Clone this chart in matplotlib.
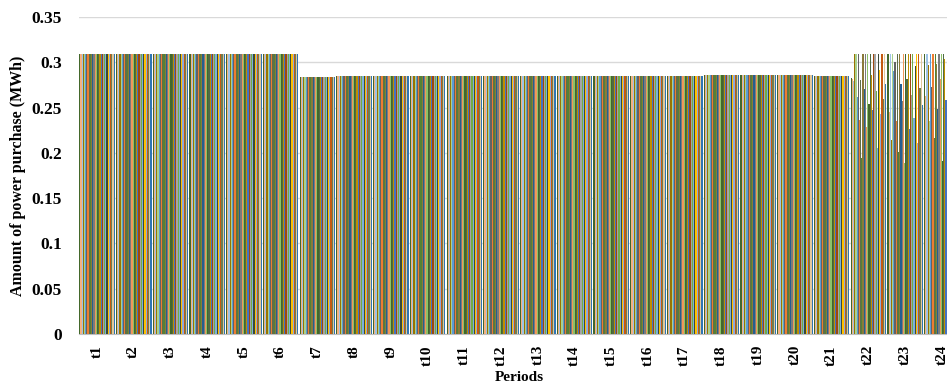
import numpy as np
import matplotlib
matplotlib.use("Agg")
from matplotlib import pyplot as plt

periods = ["t1", "t2", "t3", "t4", "t5", "t6", "t7", "t8", "t9", "t10", "t11", "t12",
           "t13", "t14", "t15", "t16", "t17", "t18", "t19", "t20", "t21", "t22", "t23", "t24"]

# t1..t21: every series buys the same amount in a period
flat_levels = [0.309, 0.309, 0.309, 0.309, 0.309, 0.309,
               0.284, 0.285, 0.285, 0.285, 0.285, 0.285, 0.285, 0.285, 0.285,
               0.285, 0.285, 0.286, 0.286, 0.286, 0.285]

# t22..t24: series differ
t22_vals = [0.283, 0.281, 0.279, 0.309, 0.309, 0.262, 0.309, 0.236, 0.280, 0.194,
            0.309, 0.271, 0.309, 0.228, 0.309, 0.254, 0.309, 0.286, 0.247, 0.309,
            0.309, 0.268, 0.205, 0.309, 0.291, 0.243, 0.309, 0.259, 0.309, 0.276]
t23_vals = [0.309, 0.245, 0.309, 0.214, 0.309, 0.290, 0.300, 0.235, 0.309, 0.201,
            0.309, 0.276, 0.257, 0.309, 0.189, 0.309, 0.281, 0.309, 0.226, 0.309,
            0.264, 0.309, 0.238, 0.296, 0.309, 0.211, 0.309, 0.272, 0.309, 0.253]
t24_vals = [0.309, 0.263, 0.309, 0.297, 0.235, 0.309, 0.273, 0.309, 0.216, 0.309,
            0.298, 0.248, 0.309, 0.282, 0.309, 0.191, 0.309, 0.304, 0.258, 0.309,
            0.229, 0.309, 0.287, 0.309, 0.244, 0.309, 0.270, 0.207, 0.309, 0.293]

# excel-like accent colours and shades, ordered so the blocks read olive/muted
colors = ['#43682B', '#F4B183', '#9DC3E6', '#997300', '#A9D18E', '#5B9BD5',
          '#636363', '#ED7D31', '#5E6E4A', '#548235', '#8A7A3A', '#255E91',
          '#7B7B7B', '#F1975A', '#8CC168', '#43682B', '#4F6B45', '#BF9000',
          '#4472C4', '#9E480E', '#A5A5A5', '#70AD47', '#7CAFDD', '#3B4A3A',
          '#FFC000', '#8FAADC', '#C55A11', '#6B7F55', '#E2C79A', '#2E75B6']

n_series = len(t22_vals)
data = np.zeros((n_series, len(periods)))
for j, v in enumerate(flat_levels):
    data[:, j] = v
data[:, 21] = t22_vals
data[:, 22] = t23_vals
data[:, 23] = t24_vals

plt.rcParams['font.family'] = ['Liberation Serif', 'DejaVu Serif']

fig = plt.figure(figsize=(9.47, 3.86), dpi=100)
ax = fig.add_axes([0.0830, 0.1347, 0.931, 0.8213])

x = np.arange(len(periods))
group_w = 0.97
bw = group_w / n_series
for i in range(n_series):
    offs = -group_w / 2 + bw * (i + 0.5)
    ax.bar(x + offs, data[i], width=bw, color=colors[i % len(colors)],
           linewidth=0, zorder=3)

ax.set_xlim(-0.5, len(periods) - 0.5)
ax.set_ylim(0, 0.35)
ax.set_yticks(np.arange(0, 0.351, 0.05))
ax.set_yticklabels(["0", "0.05", "0.1", "0.15", "0.2", "0.25", "0.3", "0.35"],
                   fontsize=12.5, fontweight='bold')
ax.set_xticks(x)
ax.set_xticklabels(periods, rotation=90, fontsize=11, fontweight='bold')
ax.tick_params(length=0, pad=8)
ax.tick_params(axis='y', pad=12)

ax.grid(axis='y', color='#D9D9D9', linewidth=1, zorder=0)
for s in ['top', 'right', 'left']:
    ax.spines[s].set_visible(False)
ax.spines['bottom'].set_color('#BFBFBF')

ax.set_ylabel("Amount of power purchase (MWh)", fontsize=11.5, fontweight='bold', labelpad=4)
ax.set_xlabel("Periods", fontsize=11, fontweight='bold', labelpad=4)

fig.savefig("out.png", dpi=100)
